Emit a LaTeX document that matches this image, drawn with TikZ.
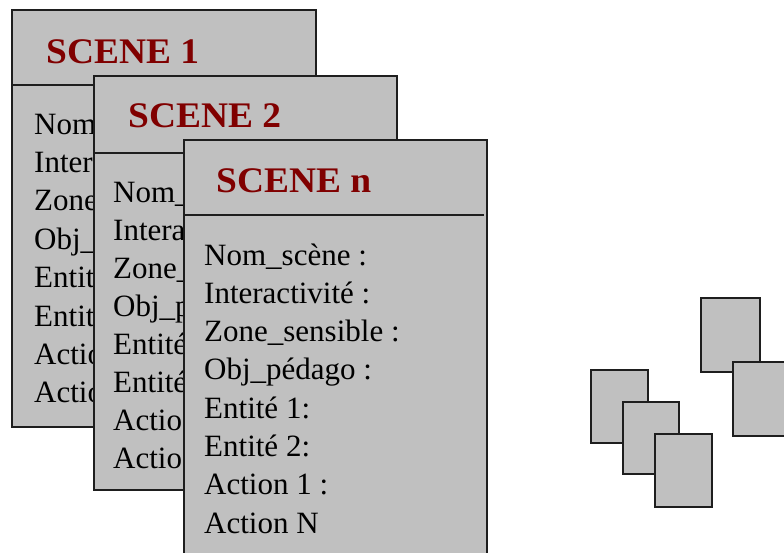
\documentclass[tikz,border=0pt]{standalone}
\usepackage{fontspec}
\setmainfont{Liberation Serif}
\newfontfamily\titlefont[FakeStretch=1.04]{Liberation Serif}
\definecolor{boxgray}{RGB}{192,192,192}
\definecolor{edge}{RGB}{30,30,30}
\definecolor{titlered}{RGB}{128,0,0}
\tikzset{
  card/.style={draw=edge, line width=1.6pt, fill=boxgray},
  divider/.style={draw=edge, line width=1.6pt},
  titletext/.style={anchor=base west, inner sep=0pt, text=titlered, font=\titlefont\fontsize{36}{36}\selectfont\bfseries},
  fieldtext/.style={anchor=base west, inner sep=0pt, text=black, font=\fontsize{31}{31}\selectfont},
}
\begin{document}
\begin{tikzpicture}[x=1pt,y=-1pt]
\useasboundingbox (0,0) rectangle (784,552);
\clip (0,0) rectangle (784,552);
\fill[white] (0,0) rectangle (784,552);
% Scene 1
\draw[card] (12,10) rectangle (316,427);
\draw[divider] (12,85) -- (316,85);
\node[titletext] (t1) at (46,63) {SCENE 1};
\begin{scope}
\clip (12,85) rectangle (94,427);
\foreach \t [count=\i from 0] in {Nom,Inter,Zone,Obj\_,Entit,Entit,Actio,Actio}{
  \node[fieldtext] (a\i) at (34, {134+38.4*\i}) {\t};
}
\end{scope}
% Scene 2
\draw[card] (94,76) rectangle (397,490);
\draw[divider] (94,153) -- (397,153);
\node[titletext] (t2) at (128,127) {SCENE 2};
\begin{scope}
\clip (94,153) rectangle (184,490);
\foreach \t [count=\i from 0] in {Nom\_,Intera,Zone\_,Obj\_p,Entité,Entité,Actio,Actio}{
  \node[fieldtext] (b\i) at (113, {202+38*\i}) {\t};
}
\end{scope}
% Scene n
\draw[card] (184,140) rectangle (487,580);
\draw[divider] (184,215) -- (484,215);
\node[titletext] (t3) at (216,192) {SCENE n};
\foreach \t [count=\i from 0] in {Nom\_scène :,Interactivité :,Zone\_sensible :,Obj\_pédago :,Entité 1:,Entité 2:,Action 1 :,Action N}{
  \node[fieldtext] (c\i) at (204, {265+38.3*\i}) {\t};
}
% small cards
\draw[card] (591,370) rectangle (648,443);
\draw[card] (623,402) rectangle (679,474);
\draw[card] (655,434) rectangle (712,507);
\draw[card] (701,298) rectangle (760,372);
\draw[card] (733,362) rectangle (790,436);
\end{tikzpicture}
\end{document}
